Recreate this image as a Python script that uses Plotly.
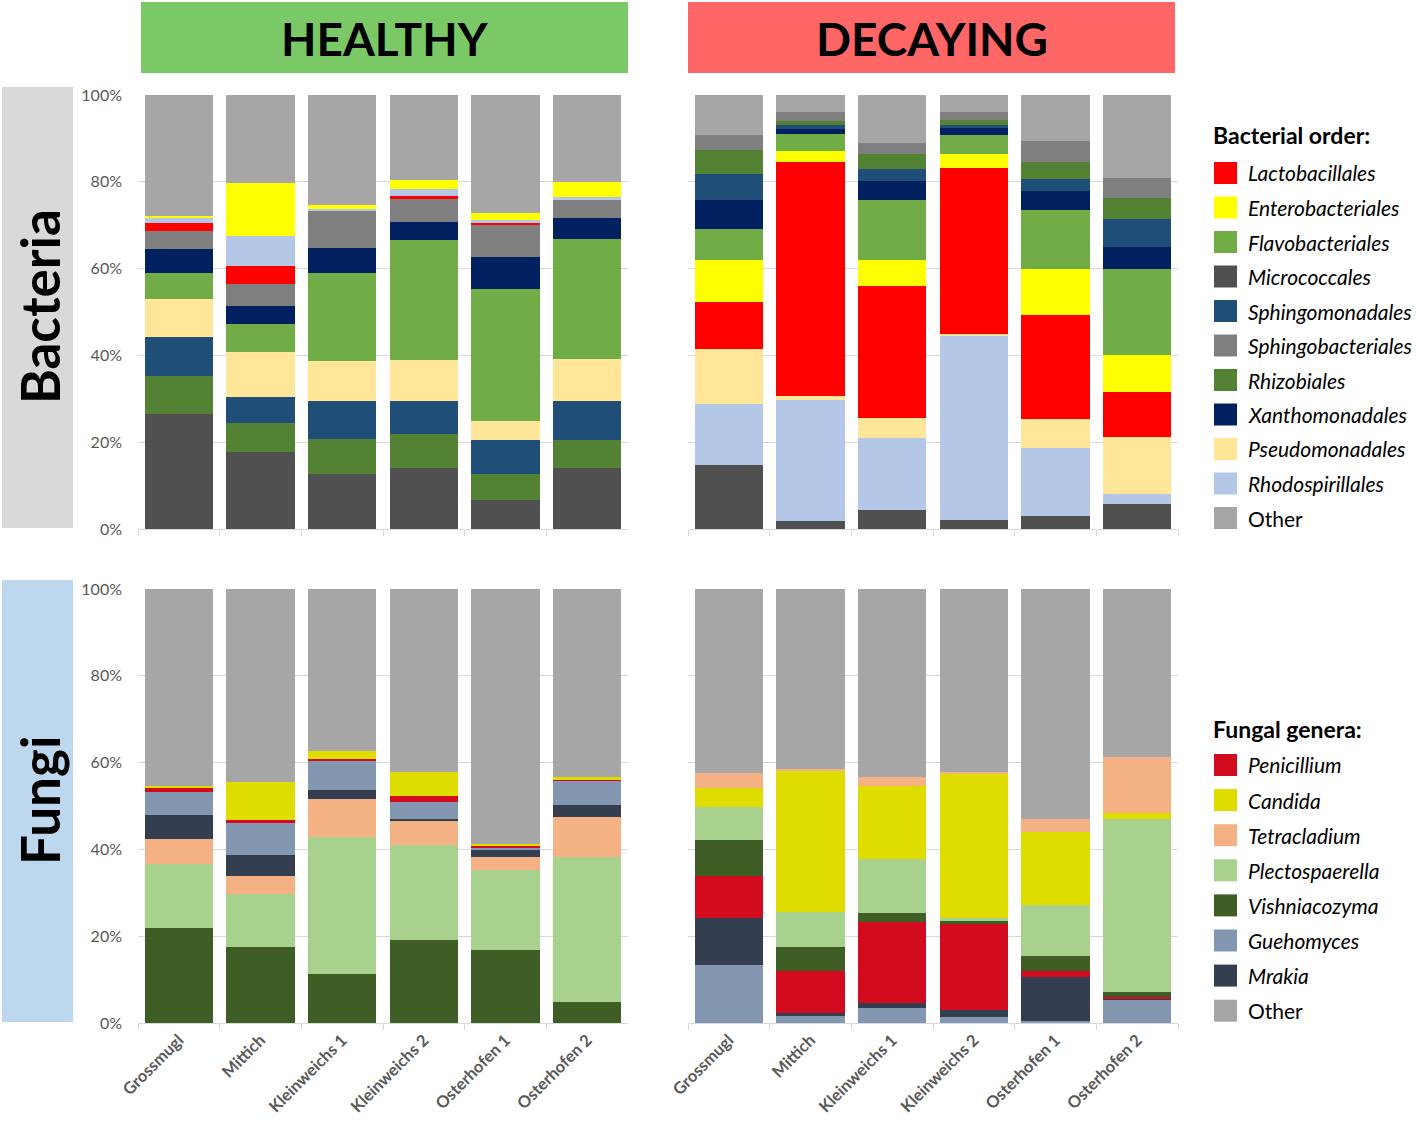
import plotly.graph_objects as go

W, H = 1418, 1124

SITES = ["Grossmugl", "Mittich", "Kleinweichs 1", "Kleinweichs 2", "Osterhofen 1", "Osterhofen 2"]

# ---------------- Bacteria (% relative abundance) ----------------
BACT_HEALTHY = {
    "Micrococcales":      [26.4, 17.8, 12.7, 14.0, 6.6, 14.0],
    "Rhizobiales":        [8.9, 6.7, 8.1, 7.8, 6.1, 6.5],
    "Sphingomonadales":   [8.9, 6.0, 8.7, 7.8, 7.8, 8.9],
    "Pseudomonadales":    [8.7, 10.2, 9.1, 9.4, 4.5, 9.8],
    "Flavobacteriales":   [6.1, 6.5, 20.3, 27.6, 30.2, 27.6],
    "Xanthomonadales":    [5.6, 4.2, 5.8, 4.2, 7.4, 4.8],
    "Sphingobacteriales": [4.1, 5.1, 8.5, 5.2, 7.5, 4.1],
    "Lactobacillales":    [1.8, 4.0, 0.0, 0.8, 0.4, 0.0],
    "Rhodospirillales":   [1.1, 6.9, 0.5, 1.5, 0.8, 0.9],
    "Enterobacteriales":  [0.5, 12.4, 1.0, 2.1, 1.5, 3.3],
    "Other":              [27.9, 20.2, 25.3, 19.6, 27.2, 20.1],
}
BACT_DECAYING = {
    "Micrococcales":      [14.7, 1.8, 4.4, 2.0, 3.0, 5.8],
    "Rhodospirillales":   [14.1, 27.9, 16.5, 42.5, 15.7, 2.2],
    "Pseudomonadales":    [12.6, 1.0, 4.6, 0.5, 6.6, 13.2],
    "Lactobacillales":    [10.8, 53.8, 30.4, 38.1, 24.0, 10.3],
    "Enterobacteriales":  [9.8, 2.5, 6.1, 3.3, 10.7, 8.6],
    "Flavobacteriales":   [7.1, 4.0, 13.8, 4.4, 13.4, 19.7],
    "Xanthomonadales":    [6.8, 1.2, 4.4, 1.7, 4.4, 5.2],
    "Sphingomonadales":   [5.9, 0.8, 2.8, 0.6, 2.9, 6.5],
    "Rhizobiales":        [5.5, 1.1, 3.5, 1.1, 3.8, 4.7],
    "Sphingobacteriales": [3.5, 2.0, 2.5, 1.8, 4.8, 4.6],
    "Other":              [9.2, 3.9, 11.0, 4.0, 10.7, 19.2],
}
BACT_LEGEND = ["Lactobacillales", "Enterobacteriales", "Flavobacteriales", "Micrococcales",
               "Sphingomonadales", "Sphingobacteriales", "Rhizobiales", "Xanthomonadales",
               "Pseudomonadales", "Rhodospirillales", "Other"]

# ---------------- Fungi (% relative abundance) ----------------
FUNGI_HEALTHY = {
    "Vishniacozyma":   [22.0, 17.4, 11.4, 19.2, 16.9, 4.8],
    "Plectospaerella": [14.6, 12.4, 31.4, 21.8, 18.4, 33.5],
    "Tetracladium":    [5.7, 4.1, 8.8, 5.6, 3.0, 9.2],
    "Mrakia":          [5.7, 4.9, 2.1, 0.5, 1.5, 2.8],
    "Guehomyces":      [5.3, 7.3, 6.7, 3.8, 0.7, 5.5],
    "Penicillium":     [0.8, 0.6, 0.5, 1.5, 0.3, 0.3],
    "Candida":         [0.5, 8.8, 1.8, 5.5, 0.5, 0.5],
    "Other":           [45.4, 44.5, 37.3, 42.1, 58.7, 43.4],
}
FUNGI_DECAYING = {
    "Guehomyces":      [13.3, 1.5, 3.4, 1.3, 0.4, 5.5],
    "Mrakia":          [10.9, 0.7, 1.3, 1.6, 10.2, 0.2],
    "Penicillium":     [9.7, 9.8, 18.5, 19.8, 1.4, 0.2],
    "Vishniacozyma":   [8.2, 5.4, 2.2, 0.7, 3.4, 1.2],
    "Plectospaerella": [7.7, 8.2, 12.4, 0.8, 11.7, 39.9],
    "Candida":         [4.4, 32.4, 16.9, 33.2, 16.9, 1.5],
    "Tetracladium":    [3.4, 0.6, 2.0, 0.5, 3.1, 12.7],
    "Other":           [42.4, 41.4, 43.3, 42.1, 52.9, 38.8],
}
FUNGI_LEGEND = ["Penicillium", "Candida", "Tetracladium", "Plectospaerella",
                "Vishniacozyma", "Guehomyces", "Mrakia", "Other"]

Y_TICKS = [0, 20, 40, 60, 80, 100]
Y_TICK_TEXT = ["0%", "20%", "40%", "60%", "80%", "100%"]

# ---------------- styles ----------------
BACT_COLORS = {
    "Lactobacillales": "#FF0000", "Enterobacteriales": "#FFFF00", "Flavobacteriales": "#70AD47",
    "Micrococcales": "#505050", "Sphingomonadales": "#1F4E79", "Sphingobacteriales": "#7F7F7F",
    "Rhizobiales": "#548235", "Xanthomonadales": "#002060", "Pseudomonadales": "#FFE699",
    "Rhodospirillales": "#B4C7E7", "Other": "#A6A6A6",
}
FUNGI_COLORS = {
    "Penicillium": "#D20B1E", "Candida": "#DFDC00", "Tetracladium": "#F4B183",
    "Plectospaerella": "#A9D18E", "Vishniacozyma": "#3E5E26", "Guehomyces": "#8497B0",
    "Mrakia": "#333F50", "Other": "#A6A6A6",
}
FONT = "Lato"
GRID = "#D9D9D9"
TXT = "#595959"


def px_x(p):
    return p / W


def px_y(p):
    return 1 - p / H


fig = go.Figure()

panels = [
    (BACT_HEALTHY, BACT_COLORS, "x", "y"),
    (BACT_DECAYING, BACT_COLORS, "x2", "y2"),
    (FUNGI_HEALTHY, FUNGI_COLORS, "x3", "y3"),
    (FUNGI_DECAYING, FUNGI_COLORS, "x4", "y4"),
]
for data, colors, xa, ya in panels:
    for name, vals in data.items():
        fig.add_trace(go.Bar(
            x=SITES, y=vals, name=name, marker_color=colors[name],
            marker_line_width=0, xaxis=xa, yaxis=ya, showlegend=False,
            hovertemplate="%{x}<br>" + name + ": %{y:.1f}%<extra></extra>",
        ))

XD_H = [px_x(138), px_x(628)]
XD_D = [px_x(688), px_x(1178)]
YD_B = [px_y(529), px_y(95)]
YD_F = [px_y(1023), px_y(589)]

xcommon = dict(type="category", showline=True, linecolor=GRID, linewidth=1,
               ticks="outside", tickson="boundaries", ticklen=6, tickcolor=GRID,
               showgrid=False, fixedrange=True, automargin=False)
ycommon = dict(range=[0, 100], tickmode="array", tickvals=Y_TICKS, ticktext=Y_TICK_TEXT,
               showgrid=True, gridcolor=GRID, gridwidth=1, zeroline=False, showline=False,
               ticks="", fixedrange=True, automargin=False)
ylab = dict(showticklabels=True, tickfont=dict(family=FONT, size=16, color=TXT),
            ticklabelstandoff=15)
xlab = dict(showticklabels=True, tickangle=-45,
            tickfont=dict(family=FONT, size=16.5, color=TXT, weight="bold"))

fig.update_layout(
    width=W, height=H, margin=dict(l=0, r=0, t=0, b=0, autoexpand=False),
    paper_bgcolor="white", plot_bgcolor="white",
    barmode="stack", bargap=0.167, showlegend=False,
    xaxis=dict(domain=XD_H, anchor="y", showticklabels=False, **xcommon),
    xaxis2=dict(domain=XD_D, anchor="y2", showticklabels=False, **xcommon),
    xaxis3=dict(domain=XD_H, anchor="y3", **xlab, **xcommon),
    xaxis4=dict(domain=XD_D, anchor="y4", **xlab, **xcommon),
    yaxis=dict(domain=YD_B, anchor="x", **ylab, **ycommon),
    yaxis2=dict(domain=YD_B, anchor="x2", showticklabels=False, **ycommon),
    yaxis3=dict(domain=YD_F, anchor="x3", **ylab, **ycommon),
    yaxis4=dict(domain=YD_F, anchor="x4", showticklabels=False, **ycommon),
)

shapes = []
annotations = []


def rect(x0, y0, x1, y1, color):
    shapes.append(dict(type="rect", xref="paper", yref="paper", layer="below",
                       x0=px_x(x0), x1=px_x(x1), y0=px_y(y1), y1=px_y(y0),
                       fillcolor=color, line=dict(width=0)))


def text(x, y, s, size, xanchor="center", angle=0, color="black"):
    annotations.append(dict(x=px_x(x), y=px_y(y), xref="paper", yref="paper",
                            showarrow=False, xanchor=xanchor, yanchor="middle",
                            textangle=angle, text=s,
                            font=dict(family=FONT, size=size, color=color)))


# header boxes
rect(141, 2, 628, 73, "#7BC866")
rect(688, 2, 1175, 73, "#FF6666")
text(384.5, 39, "<b>HEALTHY</b>", 46)
text(931.5, 39, "<b>DECAYING</b>", 46)

# side boxes
rect(2, 87, 73, 528, "#D9D9D9")
rect(2, 580, 73, 1022, "#BDD7EE")
text(39, 307, "<b>Bacteria</b>", 53, angle=-90)
text(39, 801, "<b>Fungi</b>", 53, angle=-90)


# legends
def legend(title, title_y, items, colors, y0, step):
    text(1211, title_y, "<b>" + title + "</b>", 23, xanchor="left")
    for i, name in enumerate(items):
        cy = y0 + i * step
        rect(1214, cy - 11, 1237, cy + 11, colors[name])
        label = name if name == "Other" else "<i>" + name + "</i>"
        text(1246, cy, label, 21, xanchor="left")


legend("Bacterial order:", 135, BACT_LEGEND, BACT_COLORS, 173, 34.5)
legend("Fungal genera:", 729, FUNGI_LEGEND, FUNGI_COLORS, 765, 35.1)

fig.update_layout(shapes=shapes, annotations=annotations)
fig.write_html(
    "out.html",
    config={"displayModeBar": False},
    post_script="document.body.style.margin='0';document.body.style.overflow='hidden';",
)
